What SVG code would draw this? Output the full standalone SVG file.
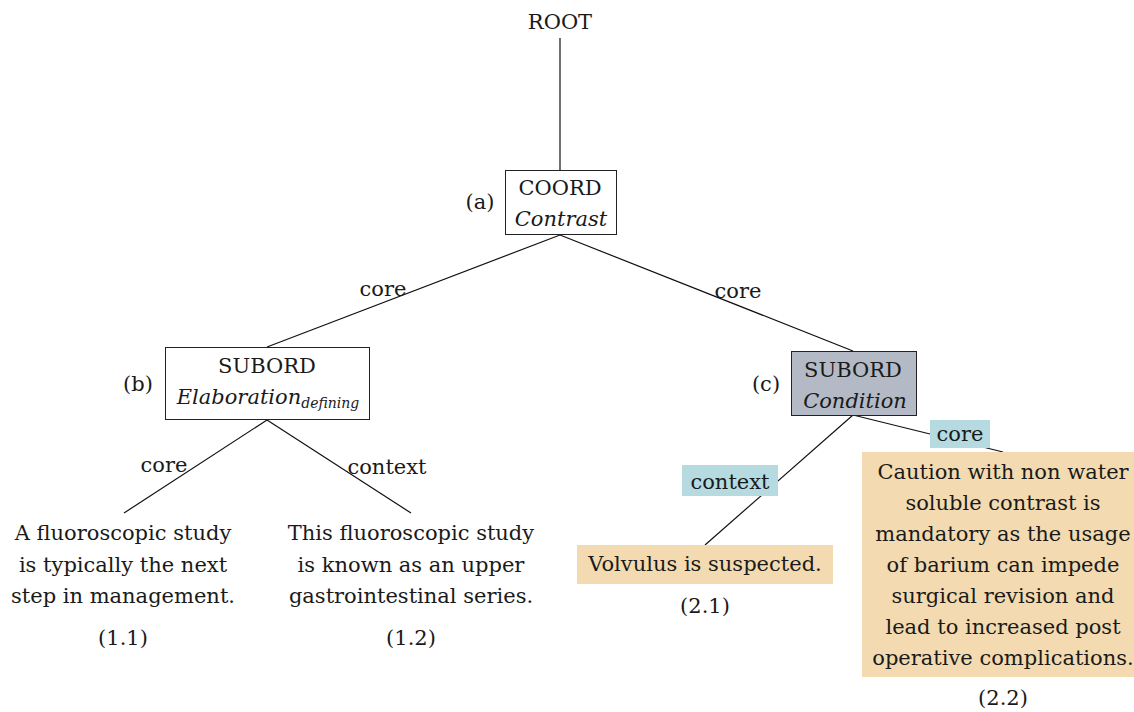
<svg xmlns="http://www.w3.org/2000/svg" width="1134" height="712" viewBox="0 0 1134 712">
<style>
text{font-family:"DejaVu Serif",serif;font-size:21px;fill:#1a1a1a;text-anchor:middle}
.it{font-style:italic}
.sub{font-size:14px;font-style:italic}
.box{fill:#fff;stroke:#222;stroke-width:1}
.gray{fill:#b3bac5;stroke:#222;stroke-width:1}
.lab{fill:#b5dae0}
.leaf{fill:#f3dab0}
line{stroke:#111;stroke-width:1.2}
</style>
<rect width="1134" height="712" fill="#fff"/>
<g id="connectors">
<line x1="560" y1="38" x2="560" y2="170"/>
<line x1="560" y1="235" x2="267" y2="347"/>
<line x1="560" y1="235" x2="853" y2="351"/>
<line x1="267" y1="420" x2="124" y2="513"/>
<line x1="267" y1="420" x2="411" y2="513"/>
<line x1="853" y1="415" x2="705" y2="545"/>
<line x1="853" y1="415" x2="1003" y2="452"/>
</g>
<g id="edge-labels">
<text x="383" y="296">core</text>
<text x="738" y="298">core</text>
<text x="164" y="472">core</text>
<text x="387" y="474">context</text>
<g id="lab-context"><rect class="lab" x="682" y="465" width="96" height="31"/><text x="730" y="489">context</text></g>
<g id="lab-core"><rect class="lab" x="930" y="420" width="60" height="28"/><text x="960" y="441">core</text></g>
</g>
<g id="root"><text x="560" y="29">ROOT</text></g>
<g id="node-a">
<rect class="box" x="505.5" y="170.5" width="111" height="64"/>
<text x="560" y="195">COORD</text>
<text class="it" x="561" y="226">Contrast</text>
<text x="480" y="209">(a)</text>
</g>
<g id="node-b">
<rect class="box" x="165.5" y="347.5" width="204" height="72"/>
<text x="267" y="373">SUBORD</text>
<text class="it" x="268" y="404">Elaboration<tspan class="sub" dy="4">defining</tspan></text>
<text x="138" y="391">(b)</text>
</g>
<g id="node-c">
<rect class="gray" x="791.5" y="351.5" width="125" height="64"/>
<text x="853" y="377">SUBORD</text>
<text class="it" x="855" y="408">Condition</text>
<text x="766" y="391">(c)</text>
</g>
<g id="leaf-1-1">
<text x="123" y="540">A fluoroscopic study</text>
<text x="123" y="572">is typically the next</text>
<text x="123" y="603">step in management.</text>
<text x="123" y="645">(1.1)</text>
</g>
<g id="leaf-1-2">
<text x="411" y="540">This fluoroscopic study</text>
<text x="411" y="572">is known as an upper</text>
<text x="411" y="603">gastrointestinal series.</text>
<text x="411" y="645">(1.2)</text>
</g>
<g id="leaf-2-1">
<rect class="leaf" x="577" y="545" width="256" height="39"/>
<text x="705" y="571">Volvulus is suspected.</text>
<text x="705" y="613">(2.1)</text>
</g>
<g id="leaf-2-2">
<rect class="leaf" x="862" y="452" width="272" height="225"/>
<text x="1003" y="479">Caution with non water</text>
<text x="1003" y="510">soluble contrast is</text>
<text x="1003" y="541">mandatory as the usage</text>
<text x="1003" y="572">of barium can impede</text>
<text x="1003" y="603">surgical revision and</text>
<text x="1003" y="634">lead to increased post</text>
<text x="1003" y="665">operative complications.</text>
<text x="1003" y="705">(2.2)</text>
</g>
</svg>
